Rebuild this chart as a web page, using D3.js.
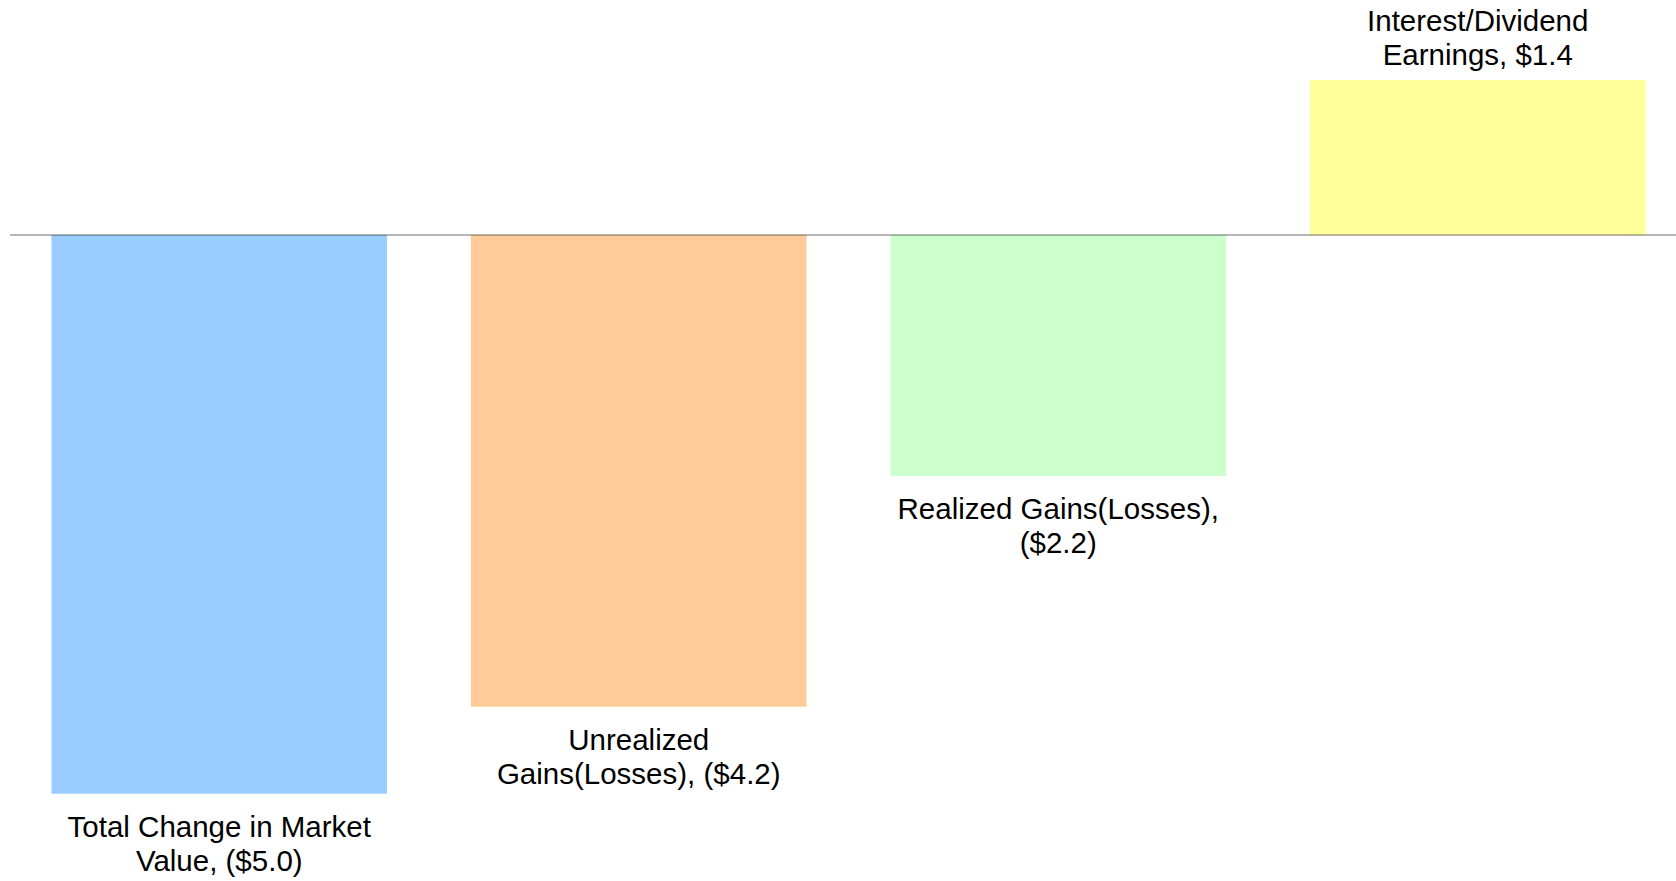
<!DOCTYPE html>
<html>
<head>
<meta charset="utf-8">
<script src="https://cdn.jsdelivr.net/npm/d3@7"></script>
<style>
  body { margin: 0; background: #fff; }
  svg { display: block; }
  text { font-family: Arial, "Liberation Sans", sans-serif; fill: #000; }
</style>
</head>
<body>
<svg id="chart"></svg>
<script>
// categories and values (in $ millions)
const categories = [
    "Total Change in Market Value",
    "Unrealized Gains(Losses)",
    "Realized Gains(Losses)",
    "Interest/Dividend Earnings"
];
const values = [-5.01, -4.23, -2.16, 1.39];
const colors = ["#99ccff", "#ffcc99", "#ccffcc", "#ffff99"];

const W = 1676, H = 881;

const svg = d3.select('#chart')
    .attr('width', W)
    .attr('height', H);

// plot area runs a little past the right edge, like the original
const xscale = d3.scaleBand()
    .domain(categories)
    .range([9.5, 1687.5])
    .paddingInner(0.2)
    .paddingOuter(0.1);

const yscale = d3.scaleLinear()
    .domain(d3.extent(values))
    .range([793.7, 80]);

const fmt = (v) => v < 0 ? `($${d3.format('.1f')(-v)})` : `$${d3.format('.1f')(v)}`;

// bars
svg.append('g').selectAll('rect')
    .data(values)
    .enter().append('rect')
    .attr('x', (d, i) => xscale(categories[i]))
    .attr('width', xscale.bandwidth())
    .attr('y', (d) => yscale(Math.max(0, d)))
    .attr('height', (d) => Math.abs(yscale(d) - yscale(0)))
    .style('fill', (d, i) => colors[i]);

// zero line
svg.append('line')
    .attr('x1', 10)
    .attr('x2', W)
    .attr('y1', yscale(0))
    .attr('y2', yscale(0))
    .style('stroke', '#000')
    .style('stroke-opacity', 0.29)
    .style('stroke-width', 2);

// data labels, wrapped to a max width
const fontSize = 29.5;
const lineH = 34.3;
const maxW = 330;

const labels = svg.append('g').selectAll('text')
    .data(values)
    .enter().append('text')
    .attr('text-anchor', 'middle')
    .style('font-size', fontSize + 'px');

labels.each(function (d, i) {
    const t = d3.select(this);
    const words = `${categories[i]}, ${fmt(d)}`.split(' ');
    const cx = xscale(categories[i]) + xscale.bandwidth() / 2;
    const lines = [];
    let cur = [];
    const probe = t.append('tspan');
    words.forEach((w) => {
        const test = cur.concat([w]).join(' ');
        probe.text(test);
        if (probe.node().getComputedTextLength() > maxW && cur.length) {
            lines.push(cur.join(' '));
            cur = [w];
        } else {
            cur.push(w);
        }
    });
    lines.push(cur.join(' '));
    probe.remove();

    let y0;
    if (d < 0) {
        y0 = yscale(d) + 43;
    } else {
        y0 = yscale(d) - 15 - lineH * (lines.length - 1);
    }
    lines.forEach((ln, k) => {
        t.append('tspan')
            .attr('x', cx)
            .attr('y', y0 + k * lineH)
            .text(ln);
    });
});
</script>
</body>
</html>
